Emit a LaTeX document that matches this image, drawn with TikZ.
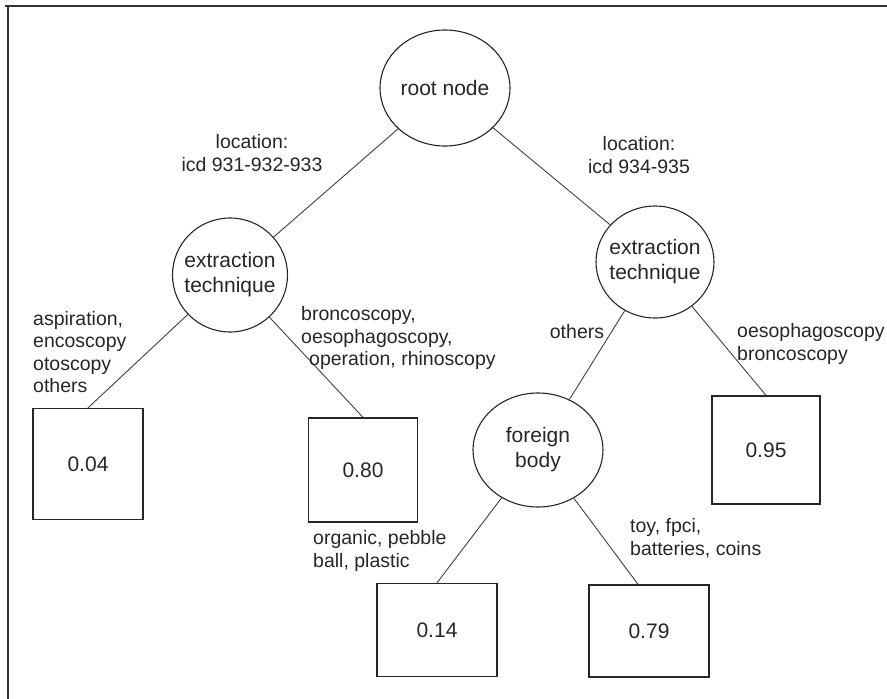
\documentclass[tikz,border=0pt]{standalone}
\usepackage{fontspec}
\setmainfont{Liberation Sans}
\usepackage{tikz}
\usetikzlibrary{shapes.geometric}

\tikzset{
  chance/.style={ellipse, draw=black!85, line width=1.1pt, inner xsep=-10pt, inner ysep=0pt,
    font=\fontsize{21}{25}\selectfont, text=black!85, align=center},
  leaf/.style={rectangle, draw=black!85, line width=1.3pt, inner sep=0pt,
    font=\fontsize{21}{25}\selectfont, text=black!85},
  branch/.style={draw=black!75, line width=0.9pt},
  lbl/.style={font=\fontsize{19.5}{22.5}\selectfont, text=black!85, inner sep=0pt},
}

\begin{document}
\begin{tikzpicture}[x=1pt,y=-1pt]
	\useasboundingbox (0,0) rectangle (887,699);

	% Frame
	\draw[line width=2pt, black!80] (5,6) -- (887,6);
	\draw[line width=2pt, black!80] (8,6) -- (8,699);

	% Decision nodes
	\node[chance, minimum width=130pt, minimum height=116pt] (root) at (445,88) {root node};
	\node[chance, minimum width=115pt, minimum height=114pt] (ext1) at (230,275) {extraction\\technique};
	\node[chance, minimum width=118pt, minimum height=112pt] (ext2) at (655,262) {extraction\\technique};
	\node[chance, minimum width=130pt, minimum height=114pt] (fb) at (538,450) {foreign\\body};

	% Leaves
	\node[leaf, minimum width=110pt, minimum height=111pt] (b004) at (88,464) {0.04};
	\node[leaf, minimum width=109pt, minimum height=104pt] (b080) at (363,470) {0.80};
	\node[leaf, minimum width=108pt, minimum height=108pt] (b095) at (766,450) {0.95};
	\node[leaf, minimum width=120pt, minimum height=93pt] (b014) at (437,630) {0.14};
	\node[leaf, minimum width=120pt, minimum height=92pt] (b079) at (649,631) {0.79};

	% Branches
	\draw[branch] (root) -- (ext1);
	\draw[branch] (root) -- (ext2);
	\draw[branch] (ext1) -- (b004.north);
	\draw[branch] (ext1) -- (b080.north);
	\draw[branch] (ext2) -- (fb);
	\draw[branch] (ext2) -- (b095.north);
	\draw[branch] (fb) -- (b014.north);
	\draw[branch] (fb) -- ([xshift=-11pt]b079.north);

	% Branch labels
	\node[lbl, align=center] (locl) at (252,153) {location:\\icd 931-932-933};
	\node[lbl, align=center] (locr) at (639,155) {location:\\icd 934-935};
	\node[lbl, align=left, anchor=west] (techl) at (33,352) {aspiration,\\encoscopy\\otoscopy\\others};
	\node[lbl, align=left, anchor=west] (techr) at (301,338) {broncoscopy,\\oesophagoscopy,\\\hspace*{8pt}operation, rhinoscopy};
	\node[lbl] (oth) at (577,332) {others};
	\node[lbl, align=left, anchor=west] (endo) at (737,344) {oesophagoscopy\\broncoscopy};
	\node[lbl, align=left, anchor=west] (mat) at (313,551) {organic, pebble\\ball, plastic};
	\node[lbl, align=left, anchor=west] (obj) at (630,538) {toy, fpci,\\batteries, coins};
\end{tikzpicture}
\end{document}
